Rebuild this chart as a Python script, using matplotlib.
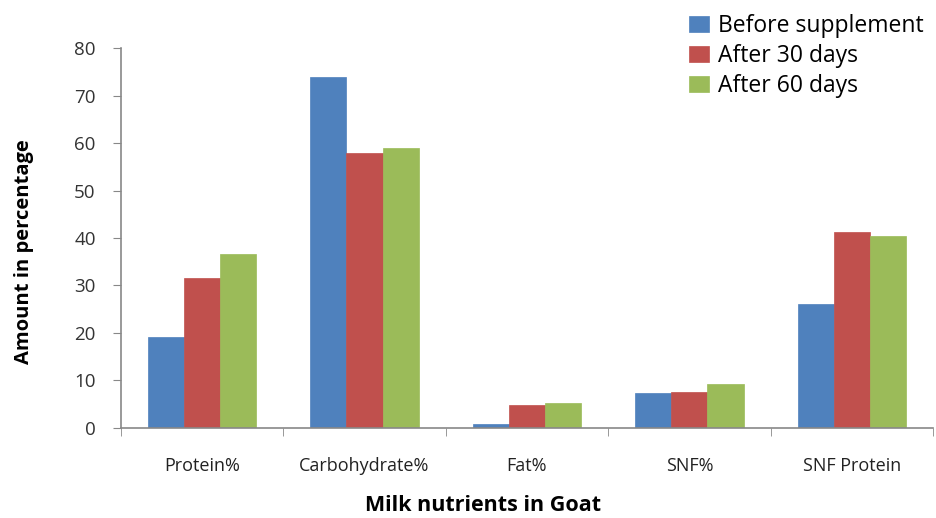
import matplotlib
matplotlib.use('Agg')
import matplotlib.pyplot as plt
import numpy as np

categories = ['Protein%', 'Carbohydrate%', 'Fat%', 'SNF%', 'SNF Protein']
series_names = ['Before supplement', 'After 30 days', 'After 60 days']
before = [19.2, 73.9, 0.9, 7.3, 26.1]
after30 = [31.5, 58.0, 4.8, 7.6, 41.3]
after60 = [36.6, 58.9, 5.2, 9.2, 40.4]
colors = ['#4F81BD', '#C0504D', '#9BBB59']
yticks = [0, 10, 20, 30, 40, 50, 60, 70, 80]

plt.rcParams['font.family'] = ['Open Sans', 'DejaVu Sans']

fig = plt.figure(figsize=(9.36, 5.18), dpi=100)
ax = fig.add_axes([0.129, 0.174, 0.868, 0.733])

x = np.arange(len(categories))
w = 0.222
for i, (vals, name) in enumerate(zip([before, after30, after60], series_names)):
    ax.bar(x + (i - 1) * w, vals, w, color=colors[i], label=name,
           edgecolor=colors[i], linewidth=0.5)

ax.set_xlim(-0.5, len(categories) - 0.5)
ax.set_ylim(0, 80)
ax.set_yticks(yticks)
ax.set_yticklabels([str(v) for v in yticks], fontsize=13.5, color='#333333')
ax.set_xticks(x)
ax.set_xticklabels(categories, fontsize=13, color='#222222')
ax.set_xticks(np.arange(-0.5, len(categories)), minor=True)
ax.tick_params(axis='x', which='major', length=0, pad=21)
ax.tick_params(axis='x', which='minor', length=6, color='#888888', direction='out')
ax.tick_params(axis='y', length=6, color='#888888', direction='out', pad=12)

for s in ['top', 'right']:
    ax.spines[s].set_visible(False)
for s in ['left', 'bottom']:
    ax.spines[s].set_color('#888888')
    ax.spines[s].set_linewidth(1.2)

ax.set_ylabel('Amount in percentage', fontsize=14.5, fontweight='bold')
ax.yaxis.set_label_coords(-0.107, 0.463)
ax.set_xlabel('Milk nutrients in Goat', fontsize=15.5, fontweight='bold')
ax.xaxis.set_label_coords(0.446, -0.176)

ax.legend(loc='upper right', bbox_to_anchor=(1.0, 1.115), frameon=False,
          fontsize=16.5, handlelength=0.9, handleheight=0.7, handletextpad=0.4,
          labelspacing=0.26, borderaxespad=0)

fig.savefig('out.png', dpi=100)
